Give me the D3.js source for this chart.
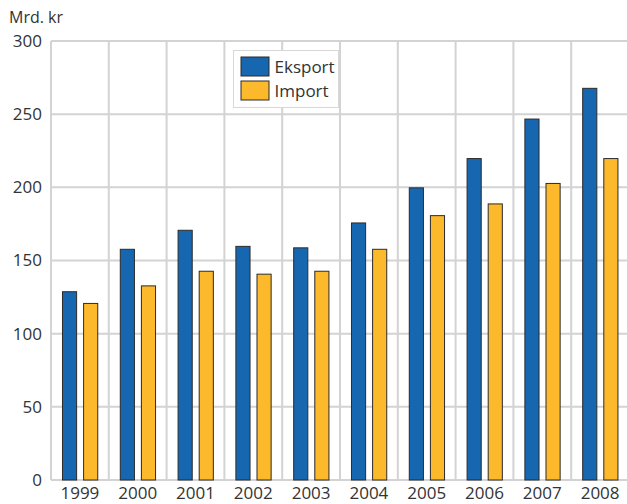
<!DOCTYPE html>
<html>
<head>
<meta charset="utf-8">
<script src="https://cdn.jsdelivr.net/npm/d3@7"></script>
<style>
  body { margin: 0; background: #fff; }
  text { font-family: "Open Sans", "Noto Sans", sans-serif; fill: #333; }
</style>
</head>
<body>
<div id="chart"></div>
<script>
// data
const years = ['1999', '2000', '2001', '2002', '2003', '2004', '2005', '2006', '2007', '2008'];
const eksport = [129, 158, 171, 160, 159, 176, 200, 220, 247, 268];
const importVals = [121, 133, 143, 141, 143, 158, 181, 189, 203, 220];
const seriesNames = ['Eksport', 'Import'];
const yTicks = [0, 50, 100, 150, 200, 250, 300];

const width = 627, height = 504;
const margin = {left: 51, top: 41, right: -2, bottom: 24};
const plotW = width - margin.left - margin.right;
const plotH = height - margin.top - margin.bottom;
const colors = ['#1767b0', '#fcb92b'];

const svg = d3.select('#chart').append('svg')
  .attr('width', width)
  .attr('height', height);

const x = d3.scaleBand().domain(years).range([0, plotW]);
const inner = d3.scaleBand().domain(seriesNames).range([0.19 * x.bandwidth(), 0.8 * x.bandwidth()]).paddingInner(0.33);
const y = d3.scaleLinear().domain([0, 300]).range([plotH, 0]);

const g = svg.append('g').attr('transform', `translate(${margin.left},${margin.top})`);

// grid
g.selectAll('line.hgrid').data(yTicks).enter().append('line')
  .attr('class', 'hgrid')
  .attr('x1', 0).attr('x2', plotW)
  .attr('y1', d => y(d)).attr('y2', d => y(d))
  .attr('stroke', '#d3d3d3').attr('stroke-width', 2);
g.selectAll('line.vgrid').data(years).enter().append('line')
  .attr('class', 'vgrid')
  .attr('x1', d => x(d)).attr('x2', d => x(d))
  .attr('y1', 0).attr('y2', plotH)
  .attr('stroke', '#d3d3d3').attr('stroke-width', 2);

// bars
const rows = years.map((yr, i) => ({year: yr, values: [eksport[i], importVals[i]]}));
const groups = g.selectAll('g.year').data(rows).enter().append('g')
  .attr('class', 'year')
  .attr('transform', d => `translate(${x(d.year)},0)`);
groups.selectAll('rect').data(d => d.values.map((v, k) => ({name: seriesNames[k], v, k})))
  .enter().append('rect')
  .attr('x', d => inner(d.name) + 0.5)
  .attr('width', inner.bandwidth())
  .attr('y', d => y(d.v) + 0.5)
  .attr('height', d => y(0) - y(d.v) - 0.5)
  .attr('fill', d => colors[d.k])
  .attr('stroke', '#2b2b2b')
  .attr('stroke-width', 1);

// axes labels
const yAxis = d3.axisLeft(y).tickValues(yTicks).tickSize(0).tickPadding(9);
g.append('g').call(yAxis)
  .call(s => s.select('.domain').remove())
  .selectAll('text')
  .attr('font-size', 17)
  .attr('fill', '#333');

const xAxis = d3.axisBottom(x).tickSize(0).tickPadding(7);
g.append('g').attr('transform', `translate(0,${plotH})`).call(xAxis)
  .call(s => s.select('.domain').remove())
  .selectAll('text')
  .attr('font-size', 17)
  .attr('fill', '#333');

svg.append('text')
  .attr('x', 9).attr('y', 23)
  .attr('font-size', 16)
  .text('Mrd. kr');

// legend
const legend = svg.append('g').attr('transform', 'translate(233.5,50.5)');
legend.append('rect')
  .attr('width', 105).attr('height', 57)
  .attr('fill', '#fff').attr('stroke', '#d8d8d8');
seriesNames.forEach((name, k) => {
  legend.append('rect')
    .attr('x', 7.5).attr('y', 6.5 + k * 24)
    .attr('width', 28).attr('height', 19)
    .attr('fill', colors[k]).attr('stroke', '#2b2b2b');
  legend.append('text')
    .attr('x', 41).attr('y', 22 + k * 24)
    .attr('font-size', 17)
    .text(name);
});
</script>
</body>
</html>
